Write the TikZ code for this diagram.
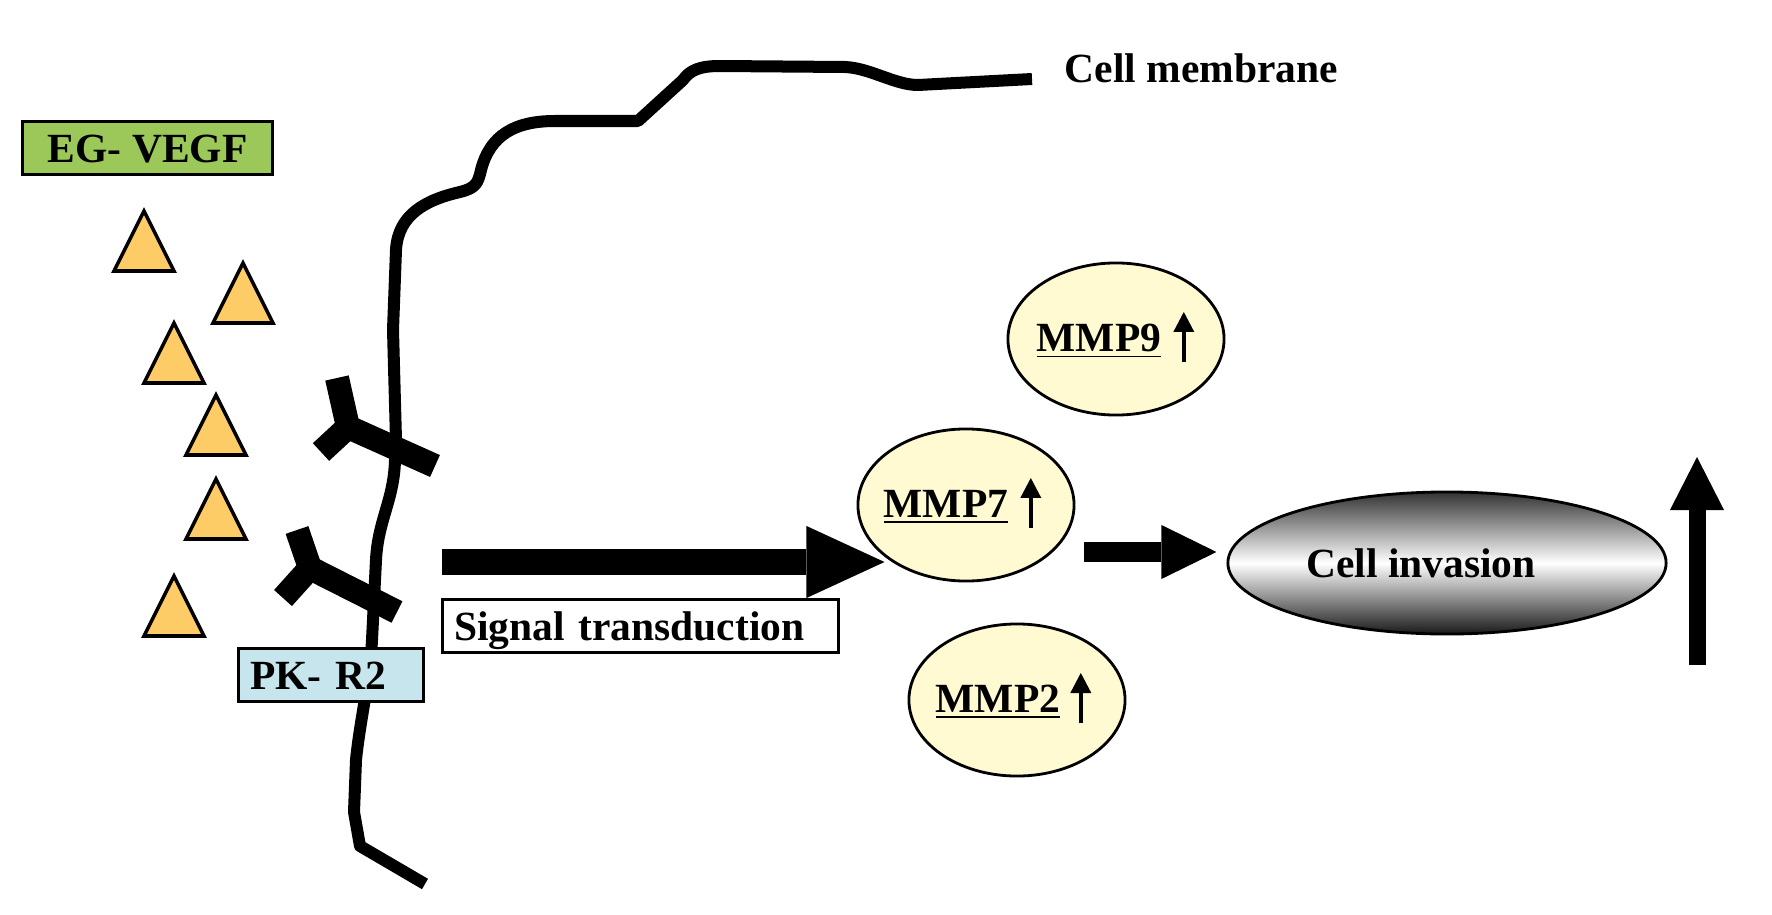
\documentclass[tikz,border=0pt]{standalone}
\usepackage{fontspec}
\setmainfont{Liberation Serif}
\usepackage{tikz}
\usetikzlibrary{arrows.meta,shapes.geometric}

\definecolor{vegfgreen}{RGB}{155,200,88}
\definecolor{ligand}{RGB}{253,204,102}
\definecolor{receptorblue}{RGB}{198,229,236}
\definecolor{mmpyellow}{RGB}{255,250,210}

\begin{document}
\begin{tikzpicture}[x=0.01cm, y=-0.01cm,
      every node/.style = {font=\bfseries\fontsize{11.8}{14}\selectfont},
      labelbox/.style = {draw, line width=0.9pt, rectangle,
        inner ysep=0pt, inner xsep=0.115cm,
        text height=0.41cm, text depth=0.12cm},
      mmpcell/.style = {draw, line width=0.8pt, ellipse, fill=mmpyellow,
        minimum width=2.16cm, minimum height=1.52cm, inner sep=0pt},
      mmptext/.style = {inner sep=0pt, anchor=base west},
      smallup/.style = {line width=0.04cm,
        -{Triangle[length=0.2cm, width=0.21cm, line width=0pt]}},
      membrane/.style = {line width=0.12cm, line join=round},
      receptor/.style = {line width=0.24cm},
      ligandtri/.style = {draw, line width=1pt, fill=ligand},
      sigarrow/.style = {line width=0.26cm, shorten >=0.08cm,
        -{Triangle[length=0.78cm, width=0.72cm, line width=0pt]}},
      midarrow/.style = {line width=0.19cm, shorten <=0.09cm, shorten >=0.1cm,
        -{Triangle[length=0.55cm, width=0.54cm, line width=0pt]}},
      risearrow/.style = {line width=0.17cm,
        -{Triangle[length=0.53cm, width=0.54cm, line width=0pt]}}]
    \useasboundingbox (0,0) rectangle (1772,915);

    \draw[membrane] (425,884) -- (360,846) -- (354,812) -- (356,760)
      .. controls (360,720) and (370,680) .. (372,640) -- (376,560)
      .. controls (378,520) and (394,500) .. (395,460) -- (396,440)
      -- (393,330) -- (396,250)
      .. controls (398,215) and (425,200) .. (460,192)
      .. controls (476,188) and (478,183) .. (481,170)
      .. controls (490,135) and (515,121) .. (555,121) -- (638,121)
      -- (683,80) .. controls (690,70) and (700,66) .. (720,66)
      -- (845,67) .. controls (870,68) and (895,85) .. (918,85) -- (1032,79);
    \node[anchor=west, inner sep=0pt] (memlabel) at (1064,68) {Cell membrane};

    \node[labelbox, fill=vegfgreen, anchor=north west, minimum width=2.5cm]
      (vegf) at (21,120) {EG- VEGF};
    \foreach \x/\y in {144/211, 243/263, 174/323, 216/395, 216/479, 174/576}
      \draw[ligandtri] (\x,\y) -- ++(30,60) -- ++(-60,0) -- cycle;

    \draw[receptor] (337,378) -- (348,427) -- (321,452);
    \draw[receptor] (348,427) -- (435,466);
    \draw[receptor] (297,530) -- (310,568) -- (283,598);
    \draw[receptor] (310,568) -- (397,612);
    \node[labelbox, fill=receptorblue, anchor=north west, text width=1.62cm,
      align=left] (pkr) at (237,647) {PK- R2};

    \node[mmpcell] (mmp9) at (1116,339) {};
    \node[mmpcell] (mmp7) at (966,505) {};
    \node[mmpcell] (mmp2) at (1017,700) {};
    \node[mmptext] (mmp9t) at ([xshift=-0.8cm, yshift=-0.12cm]mmp9.center) {\underline{MMP9}};
    \node[mmptext] (mmp7t) at ([xshift=-0.83cm, yshift=-0.12cm]mmp7.center) {\underline{MMP7}};
    \node[mmptext] (mmp2t) at ([xshift=-0.82cm, yshift=-0.12cm]mmp2.center) {\underline{MMP2}};
    \draw[smallup] ([xshift=0.22cm, yshift=-0.11cm]mmp9t.base east) -- ++(0,0.5cm);
    \draw[smallup] ([xshift=0.22cm, yshift=-0.11cm]mmp7t.base east) -- ++(0,0.5cm);
    \draw[smallup] ([xshift=0.2cm, yshift=-0.11cm]mmp2t.base east) -- ++(0,0.5cm);

    \coordinate (sigfrom) at (442,562);
    \draw[sigarrow] (sigfrom) -- (sigfrom -| mmp7.218);
    \node[labelbox, fill=white, anchor=north west, text width=3.73cm,
      align=left] (signal) at (441,598) {Signal transduction};

    \node[draw, ellipse, line width=0.8pt, minimum width=4.38cm,
      minimum height=1.42cm, inner sep=0pt, top color=black!80,
      bottom color=black!90, middle color=white]
      (invasion) at (1447,563) {Cell invasion\rule{0.52cm}{0pt}};
    \coordinate (invin) at ([yshift=0.11cm]invasion.west);
    \draw[midarrow] (invin -| mmp7.east) -- (invin);

    \coordinate (riselow) at (1697,665);
    \coordinate (risetop) at (1697,457);
    \draw[risearrow] (riselow) -- (risetop);
  \end{tikzpicture}
\end{document}
